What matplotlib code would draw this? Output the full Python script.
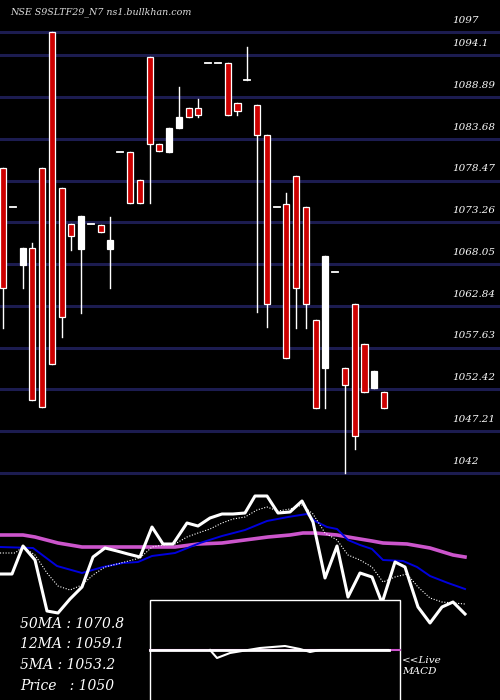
import matplotlib
matplotlib.use("Agg")
import matplotlib.pyplot as plt
from matplotlib.patches import Rectangle

# candles: open, high, low, close
opens = [1080.0, 1075.2, 1067.9, 1070.1, 1080.0, 1097.0, 1077.5, 1073.0, 1069.9, 1073.0,
         1072.9, 1069.9, 1082.0, 1082.0, 1078.5, 1093.9, 1083.0, 1082.0, 1085.0, 1087.5,
         1087.5, 1093.1, 1093.1, 1093.1, 1088.1, 1091.0, 1087.9, 1084.1, 1075.2, 1075.5,
         1079.0, 1075.2, 1061.1, 1055.1, 1067.1, 1055.1, 1063.1, 1058.1, 1052.6, 1052.1]
closes = [1065.1, 1075.2, 1070.1, 1051.1, 1050.2, 1055.6, 1061.5, 1071.5, 1074.0, 1073.0,
          1072.0, 1071.0, 1082.0, 1075.7, 1075.7, 1083.0, 1082.2, 1085.0, 1086.4, 1086.4,
          1086.6, 1093.1, 1093.1, 1086.6, 1087.1, 1091.0, 1084.1, 1063.1, 1075.2, 1056.3,
          1065.1, 1063.1, 1050.1, 1069.1, 1067.1, 1053.0, 1046.6, 1052.1, 1054.7, 1050.1]
highs = [1080.0, 1075.2, 1070.1, 1070.7, 1080.0, 1097.0, 1077.5, 1073.0, 1074.0, 1073.0,
         1072.9, 1073.9, 1082.0, 1082.0, 1078.5, 1093.9, 1083.0, 1085.0, 1090.1, 1087.5,
         1088.6, 1093.1, 1093.1, 1093.1, 1088.1, 1095.1, 1087.9, 1084.1, 1075.2, 1076.9,
         1079.0, 1075.2, 1061.1, 1069.1, 1067.1, 1055.1, 1063.1, 1058.1, 1054.7, 1052.1]
lows = [1060.1, 1075.2, 1065.1, 1051.1, 1050.2, 1055.6, 1059.0, 1069.8, 1062.0, 1073.0,
        1072.0, 1065.1, 1082.0, 1075.7, 1075.7, 1075.7, 1082.2, 1082.0, 1085.0, 1086.4,
        1086.4, 1093.1, 1093.1, 1086.6, 1086.6, 1091.0, 1062.1, 1060.2, 1075.2, 1056.3,
        1060.1, 1060.1, 1050.1, 1050.1, 1067.1, 1042.0, 1045.0, 1052.1, 1052.6, 1050.1]

price_levels = [1097, 1094.1, 1088.89, 1083.68, 1078.47, 1073.26, 1068.05, 1062.84,
                1057.63, 1052.42, 1047.21, 1042]
level_labels = ["1097", "1094.1", "1088.89", "1083.68", "1078.47", "1073.26", "1068.05",
                "1062.84", "1057.63", "1052.42", "1047.21", "1042"]

# indicator panel readings (panel row units, larger = lower)
price_x = [0, 12, 23, 35, 47, 58, 70, 82, 93, 105, 117, 128, 140, 152, 163, 173, 187, 198,
           210, 222, 233, 245, 255, 267, 278, 290, 302, 313, 325, 337, 348, 360, 372, 382,
           395, 405, 418, 430, 442, 453, 465]
price_y = [94, 94, 66, 80, 131, 133, 119, 107, 77, 68, 71, 74, 77, 47, 64, 64, 43, 46, 38,
           34, 34, 33, 16, 16, 33, 32, 21, 42, 98, 66, 117, 93, 97, 123, 82, 87, 127, 143,
           127, 122, 134]
ma12_x = [0, 33, 57, 82, 103, 123, 138, 152, 175, 200, 222, 245, 267, 288, 307, 315, 327,
          337, 348, 360, 372, 383, 403, 417, 430, 448, 465]
ma12_y = [67, 68, 86, 93, 87, 83, 82, 76, 73, 63, 56, 50, 41, 37, 34, 41, 47, 49, 60, 65,
          69, 80, 81, 87, 96, 103, 109]
ma5_x = [0, 15, 23, 35, 47, 58, 70, 82, 93, 105, 117, 140, 152, 163, 175, 187, 198, 210,
         222, 233, 245, 257, 267, 278, 290, 302, 313, 325, 337, 348, 360, 372, 383, 395,
         407, 418, 430, 442, 465]
ma5_y = [73, 73, 67, 75, 93, 106, 110, 105, 95, 87, 84, 78, 67, 65, 64, 57, 53, 49, 43,
         39, 37, 30, 27, 31, 29, 25, 34, 53, 60, 75, 80, 87, 102, 97, 94, 107, 118, 122, 124]
ma50_x = [0, 23, 35, 58, 82, 117, 140, 175, 198, 222, 245, 268, 290, 303, 315, 337, 348,
          372, 383, 407, 430, 453, 465]
ma50_y = [55, 55, 57, 63, 67, 67, 67, 67, 64, 63, 60, 57, 55, 53, 53, 55, 57, 61, 63, 64,
          68, 75, 77]
macd_x = [210, 217, 230, 260, 285, 300, 310, 320, 388]
macd_y = [170, 178, 173, 168, 166, 169, 172, 170, 170]

ma_texts = ["50MA : 1070.8", "12MA : 1059.1", "5MA : 1053.2", "Price   : 1050"]

RED = "#cc0000"
GRID = "#1c1c50"
SERIF = {"family": "DejaVu Serif", "style": "italic"}

fig = plt.figure(figsize=(5, 7), dpi=100, facecolor="black")

# price axes covering the whole figure, x = candle index, y = price
ax = fig.add_axes([0, 0, 1, 1])
ax.set_facecolor("black")
ax.set_xlim(-3 / 9.77, 497 / 9.77)
ax.set_ylim(1100.98 - 700 / 8.02, 1100.98)
ax.axis("off")

for lvl, lab in zip(price_levels, level_labels):
    ax.axhline(lvl, color=GRID, lw=2.2, zorder=1)
    ax.text(46.0, lvl + 0.9, lab, color="white", fontsize=7.5, ha="left", va="bottom", **SERIF)

w = 0.62
for i, (o, h, l, c) in enumerate(zip(opens, highs, lows, closes)):
    ax.plot([i, i], [l, h], color="white", lw=1, zorder=2)
    if o == c:
        ax.plot([i - w / 2, i + w / 2], [o, o], color="white", lw=1.3, zorder=3)
        continue
    bot = min(o, c)
    face = RED if c < o else "white"
    ax.add_patch(Rectangle((i - w / 2, bot), w, abs(o - c), facecolor=face,
                           edgecolor="white", lw=0.9, zorder=3))

ax.text(0.02, 0.983, "NSE S9SLTF29_N7 ns1.bullkhan.com", transform=ax.transAxes,
        color="#dddddd", fontsize=6.8, ha="left", va="center", **SERIF)

# indicator panel in pixel-like units
ax2 = fig.add_axes([0, 0, 1, 1])
ax2.patch.set_alpha(0)
ax2.set_xlim(0, 500)
ax2.set_ylim(220, -480)
ax2.axis("off")
ax2.plot(ma50_x, ma50_y, color="#cc55cc", lw=2.6)
ax2.plot(ma12_x, ma12_y, color="#0000dd", lw=1.4)
ax2.plot(ma5_x, ma5_y, color="white", lw=0.8, ls=(0, (1, 1.5)))
ax2.plot(price_x, price_y, color="white", lw=2.2)

ax2.add_patch(Rectangle((150, 120), 250, 105, facecolor="black", edgecolor="white",
                        lw=1, zorder=5))
ax2.plot([150, 400], [170, 170], color="#cc55cc", lw=1.5, zorder=6)
ax2.plot([150, 389], [170, 170], color="white", lw=2, zorder=6)
ax2.plot(macd_x, macd_y, color="white", lw=1.5, zorder=7)

for k, t in enumerate(ma_texts):
    ax2.text(20, 144 + k * 20.5, t, color="white", fontsize=10, ha="left", va="center",
             zorder=8, **SERIF)
ax2.text(402, 186, "<<Live\nMACD", color="white", fontsize=7.5, ha="left", va="center",
         linespacing=1.2, **SERIF)

fig.savefig("out.png", dpi=100, facecolor="black")
